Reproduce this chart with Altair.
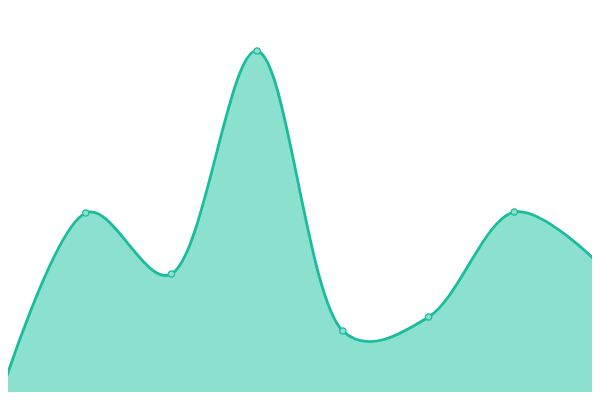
import altair as alt
import pandas as pd

categories = ["A", "B", "C", "D", "E", "F", "G", "H"]
positions = [0, 1, 2, 3, 4, 5, 6, 7]
values = [0.75, 46.75, 31.5, 87.25, 17.25, 20.75, 47.0, 33.75]

df = pd.DataFrame({"cat": categories, "pos": positions, "value": values})

x = alt.X("pos:Q", scale=alt.Scale(domain=[0.0933, 6.9067], nice=False, zero=False), axis=None)
y = alt.Y("value:Q", scale=alt.Scale(domain=[2, 98], nice=False, zero=False), axis=None)

base = alt.Chart(df).encode(x=x, y=y)

area = base.mark_area(interpolate="catmull-rom", tension=0.3, color="#8be0cf", opacity=1, clip=True).encode(y2=alt.datum(0))
line = base.mark_line(interpolate="catmull-rom", tension=0.3, color="#1abc9c", strokeWidth=2.8, clip=True)
points = base.mark_point(filled=True, fill="#8be0cf", stroke="#1abc9c", strokeWidth=1.2,
                         size=40, opacity=1, shape="circle", clip=True)

chart = (area + line + points).properties(width=584, height=384, padding=0).configure_view(strokeWidth=0)

chart.save("out.html", embed_options={"renderer": "svg", "actions": False})
